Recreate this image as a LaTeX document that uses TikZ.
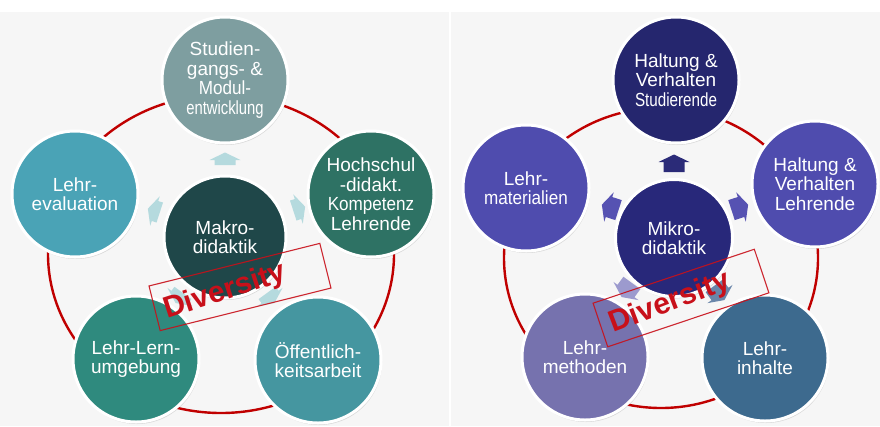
\documentclass[tikz,border=0pt]{standalone}
\usepackage{fontspec}
\setmainfont{Liberation Sans}
\usepackage{graphicx}
\usetikzlibrary{shadows}
\definecolor{ringred}{HTML}{C00000}
\definecolor{stampred}{HTML}{C8101A}
\definecolor{bgpanel}{HTML}{F6F6F6}
\definecolor{cTopL}{HTML}{7E9EA0}
\definecolor{cEval}{HTML}{4AA3B6}
\definecolor{cHoch}{HTML}{2E7264}
\definecolor{cMakro}{HTML}{1F4749}
\definecolor{cLern}{HTML}{2F8A7E}
\definecolor{cOeff}{HTML}{4596A0}
\definecolor{cTopR}{HTML}{25266E}
\definecolor{cMat}{HTML}{4F4CAE}
\definecolor{cLehrende}{HTML}{4F4CAE}
\definecolor{cMikro}{HTML}{28287A}
\definecolor{cMeth}{HTML}{7672AE}
\definecolor{cInh}{HTML}{3D6A8E}
\definecolor{arrPale}{HTML}{B5DADE}
\definecolor{arrNavy}{HTML}{2B2B78}
\definecolor{arrBlue}{HTML}{5652B2}
\definecolor{arrLav}{HTML}{9C9ACE}
\definecolor{arrSteel}{HTML}{6A86AA}
\newcommand\sqz[2]{\scalebox{#1}[1]{#2}}
\newcommand\blockarrow[4]{%
  \begin{scope}[shift={(#1)},rotate=#2]
    \fill[#3] (-#4,-10.5) -- (0,-10.5) -- (0,-15.5) -- (7.5,0) -- (0,15.5) -- (0,10.5) -- (-#4,10.5) -- cycle;
  \end{scope}}
\begin{document}
\begin{tikzpicture}[x=1pt,y=-1pt,
  sat/.style={circle, minimum size=126pt, inner sep=0pt, draw=white, line width=3pt,
    text=white, align=center, font=\fontsize{19}{19.5}\selectfont,
    drop shadow={shadow xshift=1pt, shadow yshift=-2pt, opacity=0.25}},
  hub/.style={sat, minimum size=122pt},
  ring/.style={draw=ringred, line width=2.4pt},
  stampbox/.style={draw=stampred, line width=1.1pt, minimum width=176pt, minimum height=46pt, inner sep=0pt, opacity=0.9},
  stamptext/.style={text=stampred, font=\fontsize{30}{30}\selectfont\bfseries, inner sep=0pt}]
\useasboundingbox (0,0) rectangle (880,426);
\fill[white] (0,0) rectangle (880,426);
\fill[bgpanel] (0,12) rectangle (449,426);
\fill[bgpanel] (451,12) rectangle (880,426);

% ---------------- left diagram ----------------
\draw[ring] (221,254) ellipse [x radius=173, y radius=159];
\blockarrow{225,160}{90}{arrPale}{5}
\blockarrow{155,211}{162}{arrPale}{5}
\blockarrow{298,209}{18}{arrPale}{5}
\blockarrow{180,297}{-126}{arrPale}{5}
\blockarrow{270,297}{-54}{arrPale}{5}

\node[sat, fill=cTopL] (l0) at (225,80) {Studien-\\gangs- \&\\\sqz{0.9}{Modul-}\\\sqz{0.78}{entwicklung}};
\node[sat, fill=cEval] (l1) at (75,194) {Lehr-\\evaluation};
\node[sat, fill=cHoch] (l2) at (371,194) {Hochschul\\-didakt.\\\sqz{0.9}{Kompetenz}\\Lehrende};
\node[sat, fill=cLern] (l3) at (136,359) {Lehr-Lern-\\umgebung};
\node[sat, fill=cOeff] (l4) at (318,360) {Öffentlich-\\keitsarbeit};
\node[hub, fill=cMakro] (lc) at (225,237) {Makro-\\didaktik};

\node[stampbox, rotate=14] (ls) at (240,287) {};
\node[stamptext, rotate=18] (lst) at (225,292) {Diversity};

% ---------------- right diagram ----------------
\draw[ring] (661,258) ellipse [x radius=157, y radius=150];
\blockarrow{674,162}{90}{arrNavy}{10}
\blockarrow{609,207}{162}{arrBlue}{10}
\blockarrow{741,207}{18}{arrBlue}{10}
\blockarrow{626,291}{-126}{arrLav}{10}
\blockarrow{720,294}{-54}{arrSteel}{10}

\node[sat, fill=cTopR] (r0) at (676,80) {Haltung \&\\Verhalten\\\sqz{0.8}{Studierende}};
\node[sat, fill=cMat] (r1) at (526,188) {Lehr-\\\sqz{0.9}{materialien}};
\node[sat, fill=cLehrende] (r2) at (815,184) {Haltung \&\\Verhalten\\Lehrende};
\node[sat, fill=cMeth] (r3) at (585,357) {Lehr-\\methoden};
\node[sat, fill=cInh] (r4) at (765,358) {Lehr-\\inhalte};
\node[hub, fill=cMikro, minimum size=117pt] (rc) at (674,238) {Mikro-\\didaktik};

\node[stampbox, rotate=18.5, minimum width=170pt] (rs) at (681,298) {};
\node[stamptext, rotate=21] (rst) at (670,303) {Diversity};
\end{tikzpicture}
\end{document}
